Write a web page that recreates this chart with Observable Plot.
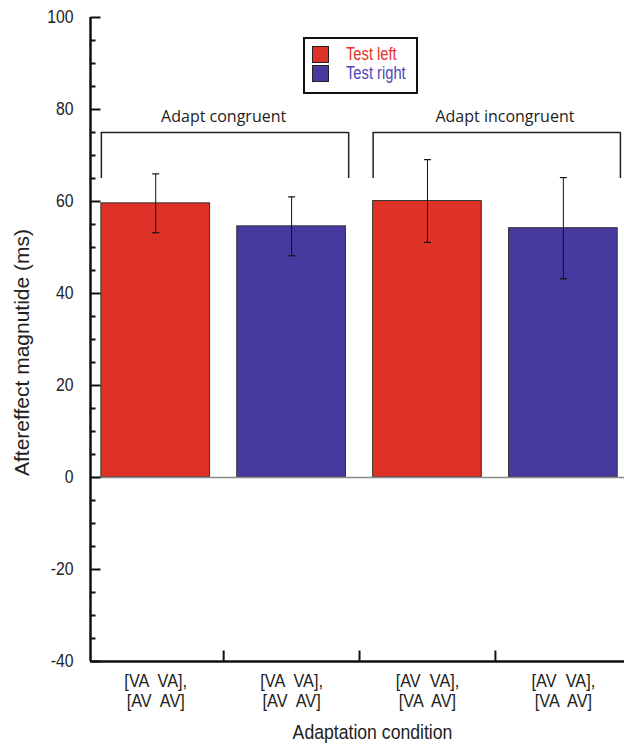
<!DOCTYPE html>
<html>
<head>
<meta charset="utf-8">
<script src="https://cdn.jsdelivr.net/npm/d3@7"></script>
<script src="https://cdn.jsdelivr.net/npm/@observablehq/plot@0.6"></script>
<style>
  html, body { margin: 0; padding: 0; background: #fff; }
  #wrap { position: relative; width: 624px; height: 745px; }
  #wrap svg text { white-space: pre; }
  .legend {
    position: absolute; left: 303px; top: 37px; width: 115px; height: 57px;
    box-sizing: border-box; border: 2.5px solid #111; background: #fff;
    font-family: "Liberation Sans", Arial, sans-serif; font-size: 17.5px;
  }
  .legend .row { position: absolute; left: 7px; height: 17px; display: flex; align-items: center; white-space: nowrap; }
  .legend .sw { width: 15px; height: 15px; border: 1.5px solid #222; margin-right: 17px; flex: none; }
  .legend .lt { display: inline-block; transform: scaleX(0.84); transform-origin: left center; }
</style>
</head>
<body>
<div id="wrap"></div>
<script>
// ---- data ----
const conditionLabels = ["[VA  VA],\n[AV  AV]", "[VA  VA],\n[AV  AV]", "[AV  VA],\n[VA  AV]", "[AV  VA],\n[VA  AV]"];
const tests = ["Test left", "Test right", "Test left", "Test right"];
const means = [59.6, 54.6, 60.1, 54.2];
const errors = [6.4, 6.4, 9, 11];
const groupLabels = ["Adapt congruent", "Adapt incongruent"];
const groupStart = [0.6, 2.6];
const groupEnd = [2.42, 4.42];
const groupLabelPos = [1.5, 3.57];
const bracketTop = 75;
const bracketBottom = 65;
const yMajorTicks = [-40, -20, 0, 20, 40, 60, 80, 100];
const yMinorTicks = [-35, -30, -25, -15, -10, -5, 5, 10, 15, 25, 30, 35, 45, 50, 55, 65, 70, 75, 85, 90, 95];
const xBoundaries = [1.5, 2.5, 3.5];
const legendKeys = ["Test left", "Test right"];
const barColors = ["#de3128", "#463a9f"];
const legendTextColors = ["#e8312b", "#5046b6"];
const xDomain = [0.52, 4.45];
const yDomain = [-40, 100];

const bars = means.map((m, i) => ({pos: i + 1, test: tests[i], mean: m, err: errors[i], label: conditionLabels[i]}));
const brackets = groupLabels.map((g, i) => ({label: g, x1: groupStart[i], x2: groupEnd[i], lx: groupLabelPos[i]}));

const sans = '"Liberation Sans", Arial, sans-serif';

const tickRight = (len) => ({draw(ctx) { ctx.moveTo(0, 0); ctx.lineTo(len, 0); }});
const tickUp = (len) => ({draw(ctx) { ctx.moveTo(0, 0); ctx.lineTo(0, -len); }});
const cap = {draw(ctx) { ctx.moveTo(-3.5, 0); ctx.lineTo(3.5, 0); }};

const chart = Plot.plot({
  width: 624,
  height: 745,
  marginLeft: 90,
  marginRight: 0,
  marginTop: 17,
  marginBottom: 84,
  style: {fontFamily: sans, background: "#fff", overflow: "visible"},
  x: {domain: xDomain, axis: null},
  y: {domain: yDomain, axis: null},
  color: {domain: legendKeys, range: barColors},
  marks: [
    // bars
    Plot.rectY(bars, {x1: d => d.pos - 0.4, x2: d => d.pos + 0.4, y1: 0, y2: "mean", fill: "test", stroke: "#333", strokeWidth: 1}),
    // zero line
    Plot.ruleY([0], {stroke: "#8a8a8a", strokeWidth: 1.5}),
    // error bars
    Plot.ruleX(bars, {x: "pos", y1: d => d.mean - d.err, y2: d => d.mean + d.err, stroke: "#111", strokeWidth: 1}),
    Plot.dot(bars, {x: "pos", y: d => d.mean + d.err, symbol: cap, stroke: "#111", strokeWidth: 1.2, fill: null}),
    Plot.dot(bars, {x: "pos", y: d => d.mean - d.err, symbol: cap, stroke: "#111", strokeWidth: 1.2, fill: null}),
    // brackets
    Plot.ruleY(brackets, {y: bracketTop, x1: "x1", x2: "x2", stroke: "#222", strokeWidth: 1.5}),
    Plot.ruleX(brackets, {x: "x1", y1: bracketBottom, y2: bracketTop, stroke: "#222", strokeWidth: 1.5}),
    Plot.ruleX(brackets, {x: "x2", y1: bracketBottom, y2: bracketTop, stroke: "#222", strokeWidth: 1.5}),
    Plot.text(brackets, {x: "lx", y: bracketTop, text: "label", dy: -16, fontFamily: '"Open Sans", "Lato", sans-serif', fontSize: 16, fill: "#222"}),
    // y axis line
    Plot.ruleX([xDomain[0]], {stroke: "#111", strokeWidth: 2.5}),
    // y ticks inward
    Plot.dot(yMajorTicks, {y: d => d, frameAnchor: "left", symbol: tickRight(10), stroke: "#111", strokeWidth: 2, fill: null}),
    Plot.dot(yMinorTicks, {y: d => d, frameAnchor: "left", symbol: tickRight(5), stroke: "#111", strokeWidth: 2, fill: null}),
    Plot.axisY({ticks: yMajorTicks, tickSize: 0, tickPadding: 17, fontSize: 17.5, label: null, tickFormat: d => String(d), fill: "#222", className: "cond90"}),
    // x axis line
    Plot.ruleY([yDomain[0]], {stroke: "#111", strokeWidth: 2.5}),
    Plot.dot(xBoundaries, {x: d => d, frameAnchor: "bottom", symbol: tickUp(11), stroke: "#111", strokeWidth: 2, fill: null}),
    Plot.axisX({ticks: bars.map(d => d.pos), tickSize: 0, tickPadding: 11, fontSize: 17.5, lineHeight: 1.15, label: null, tickFormat: p => conditionLabels[p - 1], fill: "#222", className: "cond93"}),
    // axis titles
    Plot.text(["Adaptation condition"], {frameAnchor: "bottom", lineAnchor: "middle", text: d => d, dy: 71, dx: 15, fontSize: 20.5, fill: "#222", className: "cond85"}),
    Plot.text(["Aftereffect magnutide (ms)"], {frameAnchor: "left", textAnchor: "middle", text: d => d, rotate: -90, dx: -68, dy: 13, fontSize: 21, fill: "#222"})
  ]
});

const wrap = document.getElementById("wrap");
wrap.appendChild(chart);

// horizontally condense text glyphs (reference uses a condensed face)
function condense(selector, factor) {
  chart.querySelectorAll(selector).forEach(g => {
    g.querySelectorAll("text").forEach(t => {
      const spans = t.querySelectorAll("tspan");
      const targets = spans.length ? Array.from(spans) : [t];
      targets.forEach(el => {
        const len = el.getComputedTextLength();
        if (len > 0) {
          el.setAttribute("textLength", (len * factor).toFixed(2));
          el.setAttribute("lengthAdjust", "spacingAndGlyphs");
        }
      });
    });
  });
}
condense(".cond90", 0.9);
condense(".cond93", 0.93);
condense(".cond85", 0.86);

// legend overlay
const legend = document.createElement("div");
legend.className = "legend";
legendKeys.forEach((k, i) => {
  const row = document.createElement("div");
  row.className = "row";
  row.style.top = (7 + i * 19) + "px";
  const sw = document.createElement("div");
  sw.className = "sw";
  sw.style.background = barColors[i];
  const t = document.createElement("span");
  t.className = "lt";
  t.textContent = k;
  t.style.color = legendTextColors[i];
  row.appendChild(sw);
  row.appendChild(t);
  legend.appendChild(row);
});
wrap.appendChild(legend);
</script>
</body>
</html>
